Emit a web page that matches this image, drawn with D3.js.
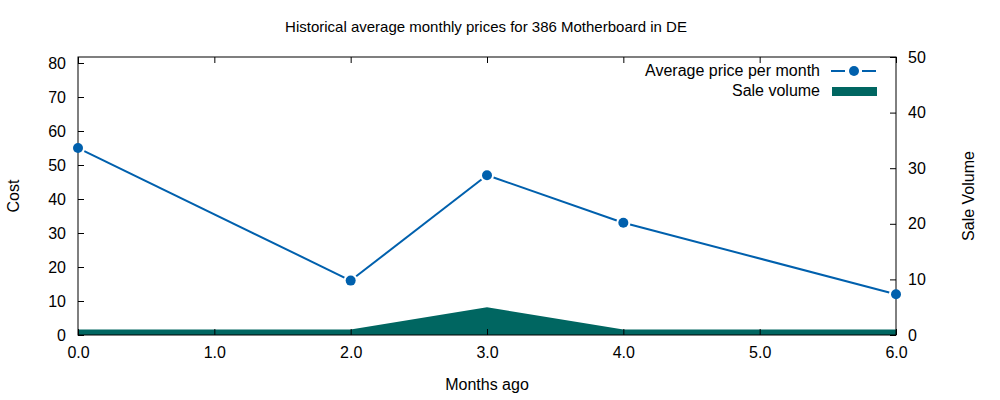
<!DOCTYPE html>
<html><head><meta charset="utf-8">
<script src="https://cdn.jsdelivr.net/npm/d3@7"></script>
<style>body{margin:0;background:#fff}text{font-family:"Liberation Sans",Arial,sans-serif}</style>
</head><body><svg id="c" width="1000" height="400"></svg>
<script>
const months = [0, 2, 3, 4, 6];
const prices = [55, 16, 47, 33, 12];
const volumes = [1, 1, 5, 1, 1];
const costTicks = [0, 10, 20, 30, 40, 50, 60, 70, 80];
const volTicks = [0, 10, 20, 30, 40, 50];
const monthTicks = [0, 1, 2, 3, 4, 5, 6];

const svg = d3.select("#c");
const L = 78, R = 896, T = 57, B = 335;
const x = d3.scaleLinear().domain([0, 6]).range([L, R]);
const y = d3.scaleLinear().domain([0, (B - T) / 3.4]).range([B, T]);
const y2 = d3.scaleLinear().domain([0, 50]).range([B, T]);
const data = months.map((m, i) => ({ m, p: prices[i], v: volumes[i] }));

// volume area
svg.append("path").datum(data)
  .attr("fill", "#006661")
  .attr("d", d3.area().x(d => x(d.m)).y0(B).y1(d => y2(d.v)));

// axes
const fs = "16px";
const ax = svg.append("g").attr("font-size", fs);
function style(g) {
  g.select(".domain").remove();
  g.selectAll("text").attr("font-size", fs).attr("font-family", "Liberation Sans, Arial, sans-serif").attr("fill", "#000");
  g.selectAll("line").attr("stroke", "#000");
}
ax.append("g").attr("transform", `translate(0,${B})`)
  .call(d3.axisBottom(x).tickValues(monthTicks).tickSize(-6).tickPadding(12)).call(style);
ax.append("g").attr("transform", `translate(0,${T})`)
  .call(d3.axisTop(x).tickValues(monthTicks).tickSize(-6).tickFormat("")).call(style);
ax.append("g").attr("transform", `translate(${L},0)`)
  .call(d3.axisLeft(y).tickValues(costTicks).tickSize(-6).tickPadding(12)).call(style);
ax.append("g").attr("transform", `translate(${R},0)`)
  .call(d3.axisRight(y2).tickValues(volTicks).tickSize(-6).tickPadding(12)).call(style);
svg.append("rect").attr("x", L).attr("y", T).attr("width", R - L).attr("height", B - T)
  .attr("fill", "none").attr("stroke", "#000");

// price line with gaps at points
const col = "#0060ad";
for (let i = 0; i < data.length - 1; i++) {
  const x1 = x(data[i].m), y1 = y(data[i].p), x2 = x(data[i + 1].m), y3 = y(data[i + 1].p);
  const len = Math.hypot(x2 - x1, y3 - y1), g = 7;
  const ux = (x2 - x1) / len, uy = (y3 - y1) / len;
  svg.append("line").attr("x1", x1 + ux * g).attr("y1", y1 + uy * g)
    .attr("x2", x2 - ux * g).attr("y2", y3 - uy * g)
    .attr("stroke", col).attr("stroke-width", 2);
}
svg.selectAll("circle.pt").data(data).enter().append("circle")
  .attr("cx", d => x(d.m)).attr("cy", d => y(d.p)).attr("r", 5).attr("fill", col);

// legend
svg.append("text").attr("x", 820).attr("y", 76).attr("text-anchor", "end").attr("font-size", fs).text("Average price per month");
svg.append("line").attr("x1", 831).attr("x2", 876).attr("y1", 71).attr("y2", 71).attr("stroke", col).attr("stroke-width", 2).attr("stroke-dasharray", "14 17 14");
svg.append("circle").attr("cx", 854).attr("cy", 71).attr("r", 5).attr("fill", col);
svg.append("text").attr("x", 820).attr("y", 96).attr("text-anchor", "end").attr("font-size", fs).text("Sale volume");
svg.append("rect").attr("x", 832).attr("y", 87).attr("width", 45).attr("height", 9).attr("fill", "#006661");

// titles
svg.append("text").attr("x", 486).attr("y", 32).attr("text-anchor", "middle").attr("font-size", "15px").text("Historical average monthly prices for 386 Motherboard in DE");
svg.append("text").attr("x", 487).attr("y", 390).attr("text-anchor", "middle").attr("font-size", fs).text("Months ago");
svg.append("text").attr("transform", "translate(19,196) rotate(-90)").attr("text-anchor", "middle").attr("font-size", fs).text("Cost");
svg.append("text").attr("transform", "translate(974,196) rotate(-90)").attr("text-anchor", "middle").attr("font-size", fs).text("Sale Volume");
</script></body></html>
